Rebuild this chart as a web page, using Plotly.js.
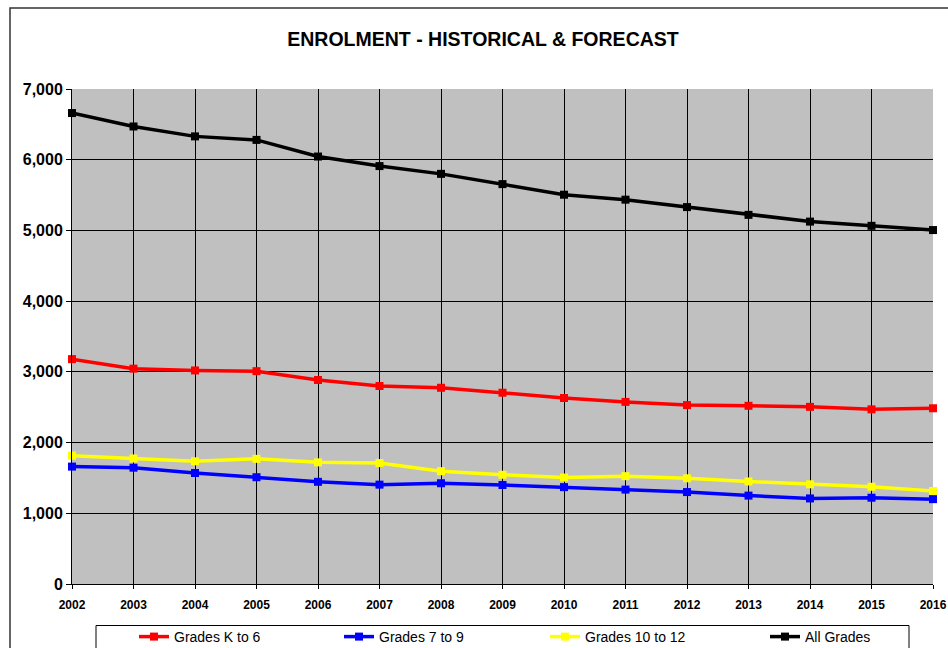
<!DOCTYPE html>
<html>
<head>
<meta charset="utf-8">
<script src="https://cdn.plot.ly/plotly-3.0.1.min.js"></script>
<style>
  html, body { margin: 0; padding: 0; background: #fff; }
  #chart { width: 948px; height: 648px; }
</style>
</head>
<body>
<div id="chart"></div>
<script>
const years = [2002, 2003, 2004, 2005, 2006, 2007, 2008, 2009, 2010, 2011, 2012, 2013, 2014, 2015, 2016];
const gradesK6 = [3180, 3045, 3020, 3010, 2885, 2800, 2775, 2705, 2630, 2575, 2530, 2520, 2505, 2470, 2485];
const grades79 = [1660, 1645, 1570, 1510, 1445, 1405, 1425, 1400, 1370, 1335, 1300, 1250, 1210, 1220, 1200];
const grades1012 = [1815, 1775, 1735, 1770, 1720, 1710, 1595, 1545, 1505, 1525, 1495, 1450, 1410, 1375, 1315];
const allGrades = [6660, 6470, 6330, 6280, 6045, 5910, 5800, 5655, 5505, 5435, 5330, 5220, 5125, 5065, 5005];
const seriesNames = ["Grades K to 6", "Grades 7 to 9", "Grades 10 to 12", "All Grades"];
const seriesColors = ["#FF0000", "#0000FF", "#FFFF00", "#000000"];
const yTicks = [0, 1000, 2000, 3000, 4000, 5000, 6000, 7000];

const FONT = "Arial, 'Liberation Sans', sans-serif";
const seriesData = [gradesK6, grades79, grades1012, allGrades];
const legendIds = ["legend", "legend2", "legend3", "legend4"];
// pixel x where each legend group is anchored
const legendStartPx = [134, 339, 545, 765];

const traces = seriesData.map((vals, i) => ({
  type: "scatter",
  mode: "lines+markers",
  x: years,
  y: vals,
  name: seriesNames[i],
  legend: legendIds[i],
  cliponaxis: false,
  line: { color: seriesColors[i], width: 3.5 },
  marker: { symbol: "square", size: 8, color: seriesColors[i] }
}));

const layout = {
  width: 948,
  height: 648,
  margin: { l: 72, r: 15, t: 89, b: 64, autoexpand: false },
  paper_bgcolor: "#FFFFFF",
  plot_bgcolor: "#C0C0C0",
  font: { family: FONT, color: "#000000" },
  title: {
    text: "<b>ENROLMENT - HISTORICAL & FORECAST</b>",
    font: { family: FONT, size: 19.5, color: "#000000" },
    x: 483 / 948, xref: "container", xanchor: "center",
    y: 1 - 39 / 648, yref: "container", yanchor: "middle"
  },
  xaxis: {
    range: [2002, 2016],
    tickmode: "array",
    tickvals: years,
    ticktext: years.map(String),
    ticks: "outside",
    ticklen: 4,
    tickcolor: "#000000",
    ticklabelstandoff: 6,
    showgrid: true,
    gridcolor: "#000000",
    gridwidth: 1,
    showline: true,
    linecolor: "#000000",
    linewidth: 1,
    zeroline: false,
    tickfont: { family: FONT, size: 12, weight: "bold", color: "#000000" },
    fixedrange: true
  },
  yaxis: {
    range: [0, 7000],
    tickmode: "array",
    tickvals: yTicks,
    ticktext: yTicks.map(v => v.toLocaleString("en-US")),
    ticks: "outside",
    ticklen: 5,
    tickcolor: "#000000",
    showgrid: true,
    gridcolor: "#000000",
    gridwidth: 1,
    showline: true,
    linecolor: "#000000",
    linewidth: 1,
    zeroline: false,
    tickfont: { family: FONT, size: 16, weight: "bold", color: "#000000" },
    fixedrange: true
  },
  showlegend: true,
  shapes: [
    {
      type: "rect", xref: "paper", yref: "paper",
      x0: (96 - 72) / 861, x1: (909 - 72) / 861,
      y0: (584 - 660) / 495, y1: (584 - 625.5) / 495,
      line: { color: "#000000", width: 1 },
      fillcolor: "#FFFFFF",
      layer: "below"
    },
    {
      type: "rect", xref: "paper", yref: "paper",
      x0: (10 - 72) / 861, x1: (990 - 72) / 861,
      y0: (584 - 700) / 495, y1: (584 - 8) / 495,
      line: { color: "#333333", width: 1.5 },
      fillcolor: "rgba(0,0,0,0)",
      layer: "below"
    }
  ]
};

legendIds.forEach((id, i) => {
  layout[id] = {
    orientation: "h",
    x: (legendStartPx[i] - 72) / 861,
    xanchor: "left",
    y: (584 - 637) / 495,
    yanchor: "middle",
    bgcolor: "rgba(0,0,0,0)",
    borderwidth: 0,
    font: { family: FONT, size: 14, color: "#000000" }
  };
});

Plotly.newPlot("chart", traces, layout, { displayModeBar: false, staticPlot: true });
</script>
</body>
</html>
